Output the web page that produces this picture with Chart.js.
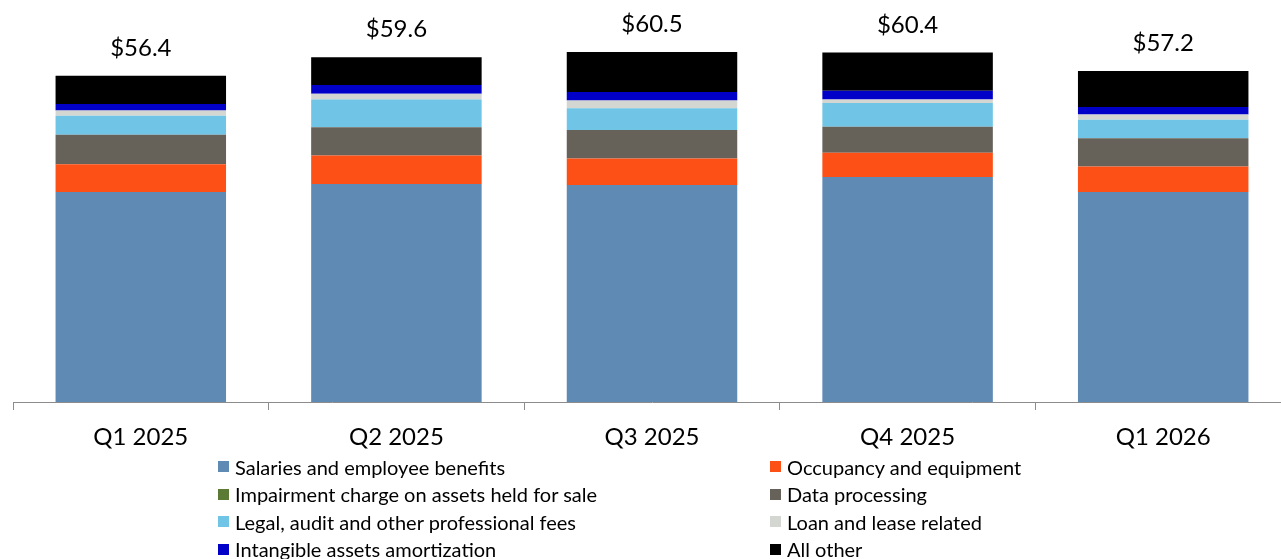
<!DOCTYPE html>
<html>
<head>
<meta charset="utf-8">
<script src="https://cdn.jsdelivr.net/npm/chart.js@4"></script>
<style>
  html, body { margin: 0; padding: 0; background: #fff; overflow: hidden; }
  body { width: 1281px; height: 559px; position: relative; }
  #wrap { position: absolute; left: 0; top: 0; width: 1291px; height: 455px; }
  #legend {
    position: absolute; left: 218px; top: 453px;
    display: grid; grid-template-columns: 552px auto;
    font-family: Lato, sans-serif; font-size: 20px; color: #000;
  }
  .item { display: flex; align-items: center; height: 27.5px; white-space: nowrap; }
  .box { width: 11px; height: 11px; margin-right: 6px; flex: none; }
</style>
</head>
<body>
<div id="wrap"><canvas id="expChart"></canvas></div>
<div id="legend"></div>
<script>
// quarters on the x axis
const categories = ['Q1 2025', 'Q2 2025', 'Q3 2025', 'Q4 2025', 'Q1 2026'];

// expense components ($ millions), bottom to top
const salaries       = [36.3, 37.7, 37.5, 38.9, 36.3];
const occupancy      = [4.8, 4.9, 4.6, 4.2, 4.4];
const impairment     = [0, 0, 0, 0, 0];
const dataProcessing = [5.1, 4.9, 4.9, 4.5, 4.9];
const legalFees      = [3.3, 4.8, 3.8, 4.1, 3.2];
const loanLease      = [0.9, 1.0, 1.3, 0.6, 0.9];
const intangibles    = [1.1, 1.5, 1.5, 1.5, 1.3];
const allOther       = [4.9, 4.8, 6.9, 6.6, 6.2];

const datasets = [
    { label: 'Salaries and employee benefits', data: salaries, backgroundColor: '#5F8AB4' },
    { label: 'Occupancy and equipment', data: occupancy, backgroundColor: '#FC5016' },
    { label: 'Impairment charge on assets held for sale', data: impairment, backgroundColor: '#5B7B34' },
    { label: 'Data processing', data: dataProcessing, backgroundColor: '#66625A' },
    { label: 'Legal, audit and other professional fees', data: legalFees, backgroundColor: '#70C5E6' },
    { label: 'Loan and lease related', data: loanLease, backgroundColor: '#D4D6D2' },
    { label: 'Intangible assets amortization', data: intangibles, backgroundColor: '#0000C8' },
    { label: 'All other', data: allOther, backgroundColor: '#000000' }
];

// draws "$xx.x" totals above each stack
const totalsPlugin = {
    id: 'totals',
    afterDatasetsDraw(chart) {
        const ctx = chart.ctx;
        const xs = chart.scales.x, ys = chart.scales.y;
        ctx.save();
        ctx.font = '24px Lato, sans-serif';
        ctx.fillStyle = '#000';
        ctx.textAlign = 'center';
        ctx.textBaseline = 'alphabetic';
        categories.forEach((c, i) => {
            let total = 0;
            chart.data.datasets.forEach(ds => { total += ds.data[i]; });
            const x = xs.getPixelForValue(i);
            const y = ys.getPixelForValue(total);
            ctx.fillText('$' + total.toFixed(1), x, y - 20);
        });
        ctx.restore();
    }
};

const chart = new Chart(document.getElementById('expChart').getContext('2d'), {
    type: 'bar',
    data: { labels: categories, datasets: datasets },
    options: {
        responsive: true,
        maintainAspectRatio: false,
        animation: false,
        layout: { padding: { left: 13, right: 0, top: 26, bottom: 3 } },
        datasets: { bar: { barPercentage: 0.667, categoryPercentage: 1.0, borderWidth: 0 } },
        plugins: {
            legend: { display: false },
            tooltip: { enabled: false }
        },
        scales: {
            x: {
                stacked: true,
                grid: { drawOnChartArea: false, drawTicks: true, tickLength: 8, color: '#8C8C8C', offset: true },
                border: { display: true, color: '#8C8C8C', width: 1 },
                ticks: { color: '#000', font: { family: 'Lato', size: 24 }, padding: 13, maxRotation: 0 },
                afterFit: s => { s.height = 50; }
            },
            y: {
                stacked: true,
                display: false,
                min: 0,
                max: 65
            }
        }
    },
    plugins: [totalsPlugin]
});

// two-column legend built from the datasets
const legend = document.getElementById('legend');
datasets.forEach(ds => {
    const item = document.createElement('div');
    item.className = 'item';
    const box = document.createElement('span');
    box.className = 'box';
    box.style.background = ds.backgroundColor;
    item.appendChild(box);
    item.appendChild(document.createTextNode(ds.label));
    legend.appendChild(item);
});
</script>
</body>
</html>
